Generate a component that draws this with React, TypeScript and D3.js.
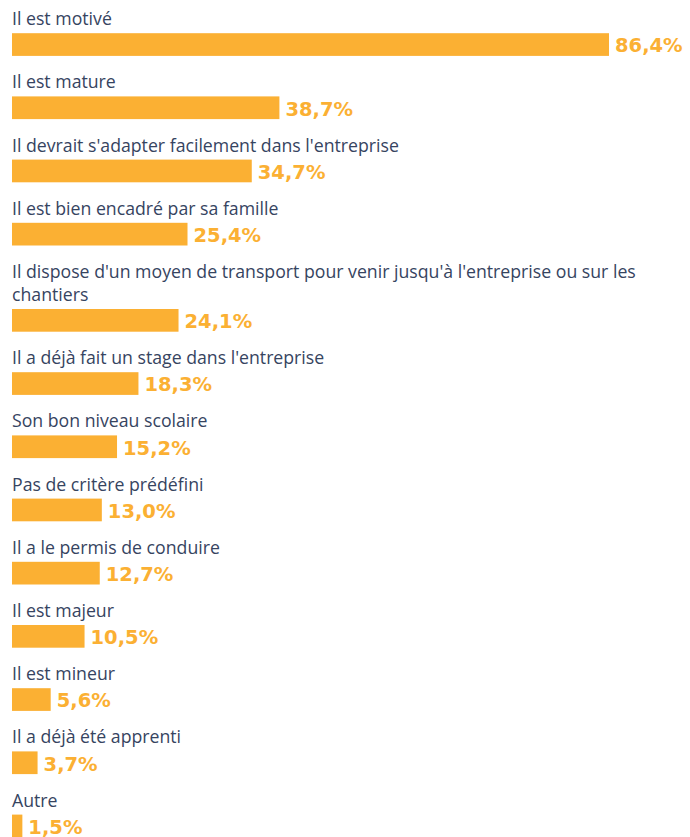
import React, { useMemo } from "react";
import * as d3 from "d3";

const categories: string[] = [
  "Il est motivé",
  "Il est mature",
  "Il devrait s'adapter facilement dans l'entreprise",
  "Il est bien encadré par sa famille",
  "Il dispose d'un moyen de transport pour venir jusqu'à l'entreprise ou sur les chantiers",
  "Il a déjà fait un stage dans l'entreprise",
  "Son bon niveau scolaire",
  "Pas de critère prédéfini",
  "Il a le permis de conduire",
  "Il est majeur",
  "Il est mineur",
  "Il a déjà été apprenti",
  "Autre",
];

const values: number[] = [86.4, 38.7, 34.7, 25.4, 24.1, 18.3, 15.2, 13.0, 12.7, 10.5, 5.6, 3.7, 1.5];

const W = 690;
const H = 837;
const LEFT = 12;
const LABEL_FONT = "17.7px 'Open Sans'";
const MAX_LABEL_W = 668;
const LINE_H = 23;
const PITCH = 63.2;
const BAR_H = 22.7;
const FIRST_BAR = 33.2;

const textColor = "#36445f";
const barColor = "#fbb033";

function wrap(text: string): string[] {
  const canvas = document.createElement("canvas");
  const ctx = canvas.getContext("2d")!;
  ctx.font = LABEL_FONT;
  const words = text.split(" ");
  const lines: string[] = [];
  let cur = "";
  for (const w of words) {
    const t = cur ? cur + " " + w : w;
    if (ctx.measureText(t).width > MAX_LABEL_W && cur) {
      lines.push(cur);
      cur = w;
    } else cur = t;
  }
  if (cur) lines.push(cur);
  return lines;
}

const fmt = (v: number) => v.toFixed(1).replace(".", ",") + "%";

export default function App() {
  const x = d3.scaleLinear().domain([0, 86.4]).range([0, 597]);

  const rows = useMemo(() => {
    let extra = 0;
    return categories.map((c, i) => {
      const lines = wrap(c);
      extra += (lines.length - 1) * LINE_H;
      const barTop = FIRST_BAR + i * PITCH + extra;
      return { label: c, lines, barTop, value: values[i] };
    });
  }, []);

  return (
    <svg
      width={W}
      height={H}
      style={{ position: "absolute", left: 0, top: 0, background: "#fff" }}
    >
      {rows.map((r, i) => (
        <g key={i}>
          {r.lines.map((ln, j) => (
            <text
              key={j}
              x={LEFT}
              y={r.barTop - 8 - (r.lines.length - 1 - j) * LINE_H}
              fill={textColor}
              style={{ font: LABEL_FONT }}
            >
              {ln}
            </text>
          ))}
          <rect x={LEFT} y={r.barTop} width={x(r.value)} height={BAR_H} fill={barColor} />
          <text
            x={LEFT + x(r.value) + 6}
            y={r.barTop + BAR_H - 3.5}
            fill={barColor}
            style={{ fontFamily: "'DejaVu Sans'", fontWeight: 700, fontSize: "19.5px" }}
          >
            {fmt(r.value)}
          </text>
        </g>
      ))}
    </svg>
  );
}
